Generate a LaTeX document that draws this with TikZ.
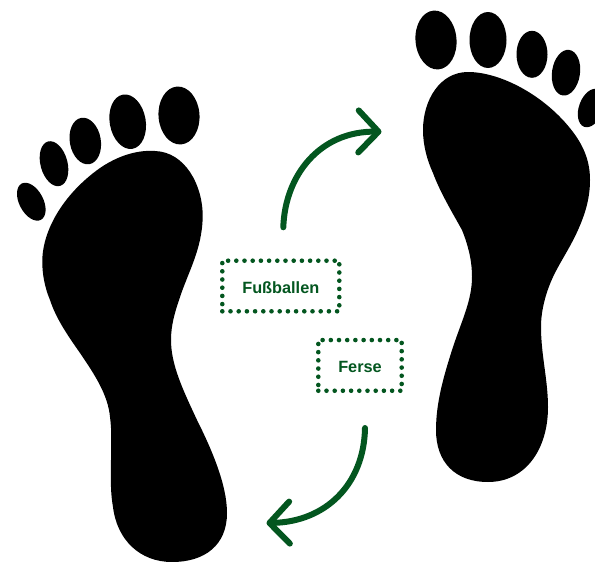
\documentclass[tikz,border=0pt]{standalone}
\usepackage{fontspec}
\setmainfont{Liberation Sans}
\usetikzlibrary{arrows.meta,shapes.geometric}
\definecolor{footGreen}{HTML}{03561F}
\begin{document}
\begin{tikzpicture}[x=1pt,y=-1pt,
  font=\bfseries\fontsize{16.3}{19}\selectfont,
  toe/.style={fill=black, draw=none, ellipse, inner sep=0pt},
  lbl/.style={draw=footGreen, line width=4.6pt, line cap=round, dash pattern=on 0pt off 8.2pt,
              text=footGreen, text height=15pt, align=center, inner sep=0pt},
  arr/.style={draw=footGreen, line width=6pt, line cap=round,
              -{Straight Barb[length=20pt, width=42pt, round, line width=6pt]}}
]
\useasboundingbox (0,0) rectangle (595,562);

% ============ LEFT FOOT ============
\fill (42.3,262) .. controls (42,232) and (62,195) .. (100,168)
  .. controls (122,153) and (142,150) .. (155,151)
  .. controls (185,152) and (203,185) .. (202.7,217)
  .. controls (202,250) and (188,272) .. (179,300)
  .. controls (175,312) and (171,325) .. (171,340)
  .. controls (171,365) and (183,390) .. (197,420)
  .. controls (212,450) and (227,485) .. (227,513)
  .. controls (227,545) and (205,562) .. (172,562)
  .. controls (140,562) and (117,540) .. (113,507)
  .. controls (110,490) and (111,475) .. (111,460)
  .. controls (111,445) and (112,432) .. (110,417)
  .. controls (108,395) and (95,375) .. (80,353)
  .. controls (66,333) and (56,318) .. (50,300)
  .. controls (45,288) and (42.3,275) .. (42.3,262) -- cycle;
\node[toe, minimum width=41pt, minimum height=58pt, rotate=4]  (leftA) at (179,115.5) {};
\node[toe, minimum width=36pt, minimum height=55pt, rotate=10] (leftB) at (127.7,121.7) {};
\node[toe, minimum width=31pt, minimum height=47pt, rotate=10] (leftC) at (85.3,141) {};
\node[toe, minimum width=27pt, minimum height=46pt, rotate=15] (leftD) at (54,163.7) {};
\node[toe, minimum width=24pt, minimum height=41pt, rotate=28] (leftE) at (31.3,201.7) {};

% ============ RIGHT FOOT ============
\fill (423,130) .. controls (423,100) and (440,72) .. (468,72)
  .. controls (500,72) and (545,95) .. (573,132)
  .. controls (585,148) and (590,163) .. (590,180)
  .. controls (590,197) and (586,212) .. (578,230)
  .. controls (570,248) and (560,262) .. (553,277)
  .. controls (546,292) and (541,310) .. (541,327)
  .. controls (541,355) and (548,380) .. (548,407)
  .. controls (548,450) and (525,482) .. (488,482)
  .. controls (455,482) and (436,462) .. (436,430)
  .. controls (436,402) and (444,375) .. (453,347)
  .. controls (462,320) and (472,300) .. (472,277)
  .. controls (472,260) and (468,245) .. (462,230)
  .. controls (452,212) and (440,192) .. (433,173)
  .. controls (427,160) and (423,145) .. (423,130) -- cycle;
\node[toe, minimum width=41pt, minimum height=59pt, rotate=5]  (rightA) at (436,40) {};
\node[toe, minimum width=37pt, minimum height=56pt]            (rightB) at (488,40) {};
\node[toe, minimum width=31pt, minimum height=47pt]            (rightC) at (532,54.3) {};
\node[toe, minimum width=28pt, minimum height=46pt, rotate=-8] (rightD) at (566,72.7) {};
\node[toe, minimum width=24pt, minimum height=40pt, rotate=-20] (rightE) at (591,108) {};

% ============ LABELS ============
\node[lbl, minimum width=117pt, minimum height=50.6pt] (ballen) at (280.8,286) {Fußballen};
\node[lbl, minimum width=83.4pt, minimum height=50.7pt] (ferse) at (360,365.4) {Ferse};

% ============ ARROWS ============
\coordinate (ballenStart) at (283.3,227.3);
\coordinate (ballenTip) at (381.5,131.7);
\coordinate (ferseStart) at (365,428);
\coordinate (ferseTip) at (266.5,523);
\draw[arr] (ballenStart) .. controls (285,175) and (320,131) .. (ballenTip);
\draw[arr] (ferseStart) .. controls (364,485) and (325,522) .. (ferseTip);

\end{tikzpicture}
\end{document}
